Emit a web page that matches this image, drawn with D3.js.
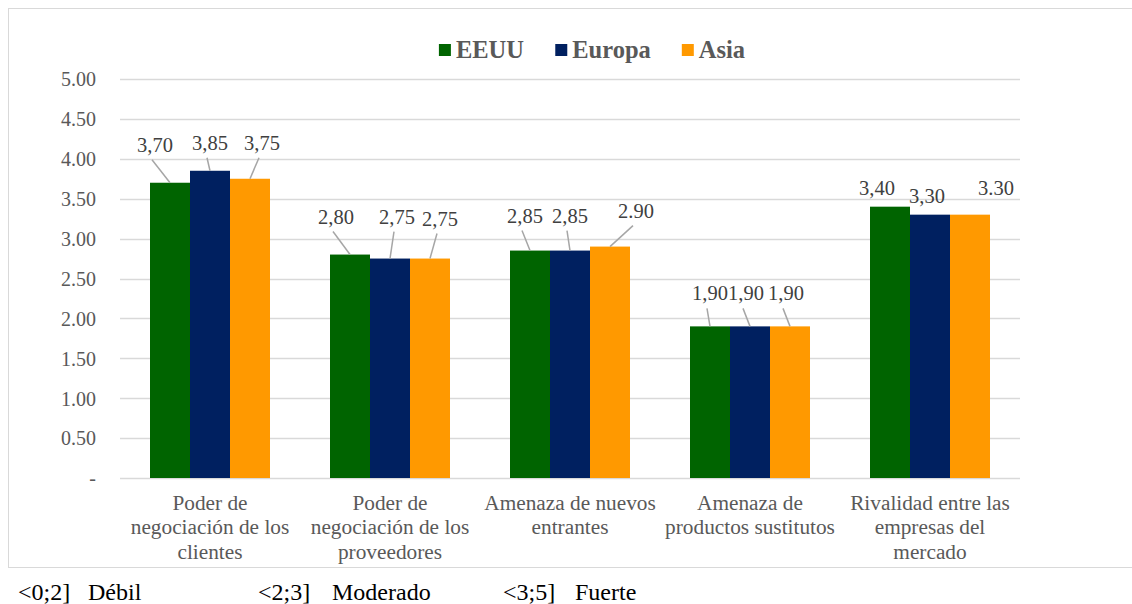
<!DOCTYPE html>
<html>
<head>
<meta charset="utf-8">
<script src="https://cdn.jsdelivr.net/npm/d3@7"></script>
</head>
<body style="margin:0;background:#fff">
<svg id="chart" width="1132" height="604"></svg>
<script>
// Fuerzas de Porter: puntaje por región
const categories = [
  ["Poder de", "negociación de los", "clientes"],
  ["Poder de", "negociación de los", "proveedores"],
  ["Amenaza de nuevos", "entrantes"],
  ["Amenaza de", "productos sustitutos"],
  ["Rivalidad entre las", "empresas del", "mercado"]
];
const seriesNames = ["EEUU", "Europa", "Asia"];
const eeuu   = [3.70, 2.80, 2.85, 1.90, 3.40];
const europa = [3.85, 2.75, 2.85, 1.90, 3.30];
const asia   = [3.75, 2.75, 2.90, 1.90, 3.30];
const yTicks = [0, 0.5, 1, 1.5, 2, 2.5, 3, 3.5, 4, 4.5, 5];
const scaleNotes = [["<0;2]", "Débil"], ["<2;3]", "Moderado"], ["<3;5]", "Fuerte"]];
// labels written with a point instead of a comma: [series, category]
const pointLabels = [[2, 2], [2, 4]];

const seriesValues = [eeuu, europa, asia];
const colors = ["#006400", "#002060", "#ff9900"];

// label placement relative to the top centre of each bar: [dx, dy, leader]
const labelPlacement = [
  [[-15, -31, 1], [-14, -31, 1], [-5, -28, 1], [0, -26, 1], [-13, -12, 0]],
  [[0, -21, 1], [7, -35, 1], [0, -28, 1], [-4, -26, 1], [-3, -12, 0]],
  [[12, -29, 1], [10, -33, 1], [26, -29, 1], [-4, -26, 1], [26, -20, 0]]
];

const serif = "Liberation Serif";
const svg = d3.select("#chart");
const textColor = "#595959";
const gridColor = "#d9d9d9";

// outer frame
svg.append("rect")
  .attr("x", 8.5).attr("y", 8.5)
  .attr("width", 1130).attr("height", 559)
  .attr("fill", "none").attr("stroke", gridColor).attr("stroke-width", 1);

const plot = { left: 120, right: 1020, top: 79, bottom: 478 };

const x0 = d3.scaleBand()
  .domain(d3.range(categories.length))
  .range([plot.left, plot.right])
  .paddingInner(1 / 3)
  .paddingOuter(1 / 6);

const x1 = d3.scaleBand()
  .domain(d3.range(seriesNames.length))
  .range([0, x0.bandwidth()]);

const y = d3.scaleLinear().domain([0, 5]).range([plot.bottom, plot.top]);

// gridlines
svg.append("g")
  .selectAll("line")
  .data(yTicks)
  .join("line")
  .attr("x1", plot.left).attr("x2", plot.right)
  .attr("y1", d => Math.round(y(d)) + 0.5).attr("y2", d => Math.round(y(d)) + 0.5)
  .attr("stroke", gridColor).attr("stroke-width", 1.3);

// y axis labels
const yAxis = d3.axisLeft(y)
  .tickValues(yTicks)
  .tickSize(0)
  .tickPadding(0)
  .tickFormat(d => d === 0 ? "-" : d3.format(".2f")(d));
const yg = svg.append("g").attr("transform", "translate(96,0)").call(yAxis);
yg.select(".domain").remove();
yg.selectAll("text")
  .style("font-family", serif)
  .style("font-size", "20px")
  .attr("fill", textColor)
  .attr("dy", "0.34em");

// bars
const groups = svg.append("g")
  .selectAll("g")
  .data(seriesValues)
  .join("g")
  .attr("fill", (d, i) => colors[i]);

groups.each(function (vals, s) {
  d3.select(this).selectAll("rect")
    .data(vals)
    .join("rect")
    .attr("x", (v, c) => x0(c) + x1(s))
    .attr("y", v => y(v))
    .attr("width", x1.bandwidth())
    .attr("height", v => y(0) - y(v));
});

// data labels with leader lines
const fmt = d3.format(".2f");
const isPoint = (s, c) => pointLabels.some(p => p[0] === s && p[1] === c);
const labelLayer = svg.append("g");
seriesValues.forEach((vals, s) => {
  vals.forEach((v, c) => {
    const bx = x0(c) + x1(s) + x1.bandwidth() / 2;
    const by = y(v);
    const [dx, dy, leader] = labelPlacement[s][c];
    const lx = bx + dx, ly = by + dy;
    if (leader) {
      labelLayer.append("line")
        .attr("x1", lx - 3).attr("y1", ly + 8)
        .attr("x2", bx).attr("y2", by)
        .attr("stroke", "#a6a6a6").attr("stroke-width", 1.5);
    }
    const txt = isPoint(s, c) ? fmt(v) : fmt(v).replace(".", ",");
    labelLayer.append("text")
      .attr("x", lx).attr("y", ly)
      .attr("text-anchor", "middle")
      .style("font-family", serif)
      .style("font-size", "20.5px")
      .attr("fill", "#404040")
      .text(txt);
  });
});

// category labels
const catLayer = svg.append("g");
categories.forEach((lines, c) => {
  const t = catLayer.append("text")
    .attr("x", x0(c) + x0.bandwidth() / 2)
    .attr("y", 510)
    .attr("text-anchor", "middle")
    .style("font-family", serif)
    .style("font-size", "21.3px")
    .attr("fill", textColor);
  lines.forEach((ln, i) => {
    t.append("tspan")
      .attr("x", x0(c) + x0.bandwidth() / 2)
      .attr("dy", i === 0 ? 0 : 24.3)
      .text(ln);
  });
});

// legend
const legend = svg.append("g");
const legendItems = legend.selectAll("g")
  .data(seriesNames)
  .join("g");
legendItems.append("rect")
  .attr("width", 12).attr("height", 12)
  .attr("y", 44)
  .attr("fill", (d, i) => colors[i]);
legendItems.append("text")
  .attr("x", 17).attr("y", 57.5)
  .style("font-family", serif)
  .style("font-size", "24.5px")
  .style("font-weight", "bold")
  .attr("fill", textColor)
  .text(d => d);
const gap = 31;
const widths = [];
legendItems.each(function () {
  widths.push(this.getBBox().width);
});
const total = d3.sum(widths) + gap * (widths.length - 1);
const start = 592 - total / 2;
legendItems.attr("transform", (d, i) => {
  const tx = start + d3.sum(widths.slice(0, i)) + gap * i;
  return `translate(${tx},0)`;
});

// scale notes beneath the chart
const noteX = [[18, 88], [258, 332], [503, 575]];
const notes = svg.append("g");
scaleNotes.forEach((n, i) => {
  n.forEach((str, j) => {
    notes.append("text")
      .attr("x", noteX[i][j]).attr("y", 600)
      .style("font-family", serif)
      .style("font-size", "24px")
      .attr("fill", "#000")
      .text(str);
  });
});
</script>
</body>
</html>
